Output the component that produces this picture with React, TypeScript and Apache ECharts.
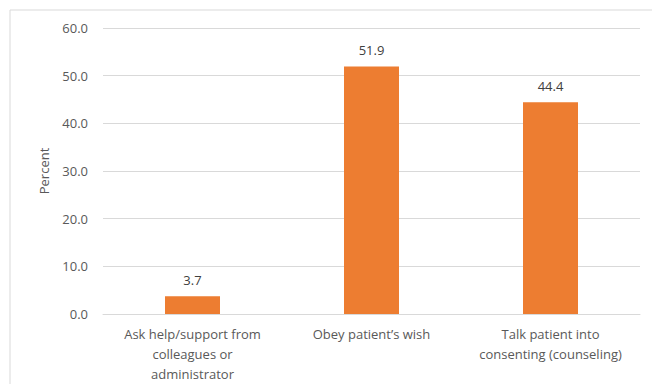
import React, { useEffect, useRef } from "react";
import * as echarts from "echarts";

const categories = [
  "Ask help/support from\ncolleagues or\nadministrator",
  "Obey patient\u2019s wish",
  "Talk patient into\nconsenting (counseling)",
];
const percentValues = [3.7, 51.9, 44.4];
const axisTitle = "Percent";

export default function App() {
  const ref = useRef<HTMLDivElement>(null);

  useEffect(() => {
    if (!ref.current) return;
    const chart = echarts.init(ref.current, undefined, { renderer: "svg" });
    const font = "'Open Sans', Lato, sans-serif";
    chart.setOption({
      animation: false,
      backgroundColor: "#ffffff",
      graphic: [
        {
          type: "rect",
          shape: { x: 10, y: 10, width: 645, height: 390 },
          style: { fill: "none", stroke: "#d9d9d9", lineWidth: 1 },
          silent: true,
        },
      ],
      grid: { left: 103, right: 20, top: 28, bottom: 78 },
      xAxis: {
        type: "category",
        data: categories,
        axisLine: { show: true, lineStyle: { color: "#d9d9d9" } },
        axisTick: { show: false },
        axisLabel: {
          color: "#595959",
          fontFamily: font,
          fontSize: 13,
          lineHeight: 20,
          margin: 10,
          interval: 0,
        },
      },
      yAxis: {
        type: "value",
        min: 0,
        max: 60,
        interval: 10,
        name: axisTitle,
        nameLocation: "middle",
        nameGap: 53,
        nameTextStyle: { color: "#595959", fontFamily: font, fontSize: 13 },
        axisLine: { show: false },
        axisTick: { show: false },
        splitLine: { lineStyle: { color: "#d9d9d9" } },
        axisLabel: {
          color: "#595959",
          fontFamily: font,
          fontSize: 13,
          margin: 15,
          formatter: (v: number) => v.toFixed(1),
        },
      },
      series: [
        {
          type: "bar",
          data: percentValues,
          barWidth: 55,
          itemStyle: { color: "#ed7d31" },
          label: {
            show: true,
            position: "top",
            distance: 10,
            color: "#404040",
            fontFamily: font,
            fontSize: 13,
            formatter: (p: any) => p.value.toFixed(1),
          },
        },
      ],
    });
    return () => chart.dispose();
  }, []);

  return <div ref={ref} style={{ width: 660, height: 392, margin: -8 }} />;
}
